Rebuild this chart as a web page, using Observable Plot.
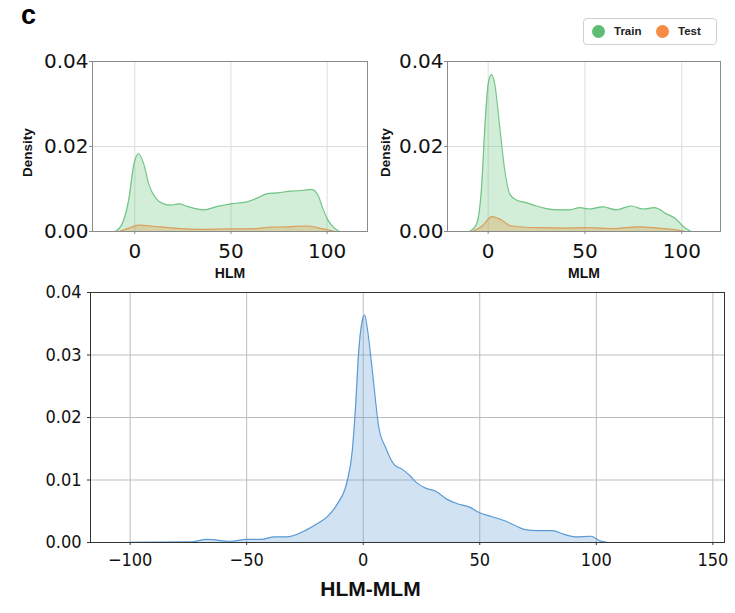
<!DOCTYPE html>
<html>
<head>
<meta charset="utf-8">
<script src="https://cdn.jsdelivr.net/npm/d3@7"></script>
<script src="https://cdn.jsdelivr.net/npm/@observablehq/plot@0.6"></script>
<style>
  body { margin: 0; background: white; }
  #fig { position: relative; width: 735px; height: 613px; overflow: hidden; }
  #fig > div { position: absolute; }
  .lab { font-family: "Liberation Sans", Arial, sans-serif; font-weight: bold; }
  #legend {
    left: 583px; top: 18px; width: 132px; height: 25px;
    border: 1px solid #d0d0d0; border-radius: 4px;
    font-size: 11.5px; color: #222;
  }
  #legend span { position: absolute; top: 6px; }
  #legend i { position: absolute; top: 6px; width: 13px; height: 13px; border-radius: 50%; }
</style>
</head>
<body>
<div id="fig">
  <div class="lab" style="left:21px; top:2px; font-size:27px; line-height:27px;">c</div>
  <div id="tl" style="left:0px; top:40px;"></div>
  <div id="tr" style="left:370px; top:40px;"></div>
  <div id="bot" style="left:0px; top:280px;"></div>
  <div id="legend" class="lab">
    <i style="left:8px; background:#5dbd72;"></i><span style="left:30px;">Train</span>
    <i style="left:72px; background:#f58b45;"></i><span style="left:94px;">Test</span>
  </div>
</div>
<script>
// HLM density
const hlmTrainX = [-10, -6, -3, -0.5, 2, 4.7, 7.3, 10.8, 15, 18.6, 23, 27.3, 36, 43, 50, 57.7, 63.8, 69, 74.3, 81.2, 88.2, 91.7, 95.1, 97.7, 100.3, 103.8, 106.4]
const hlmTrainY = [0, 0.0024, 0.0079, 0.0158, 0.0183, 0.0158, 0.0111, 0.0079, 0.0065, 0.0062, 0.0065, 0.0059, 0.0051, 0.0059, 0.0065, 0.0069, 0.0079, 0.0089, 0.0091, 0.0095, 0.0097, 0.0099, 0.0087, 0.0055, 0.0028, 0.0008, 0]
const hlmTestX = [-8, -3, 2, 8, 20, 35, 50, 60, 70, 80, 90, 98, 104]
const hlmTestY = [0, 0.0008, 0.0015, 0.0013, 0.0008, 0.0005, 0.0006, 0.0006, 0.0010, 0.0011, 0.0013, 0.0006, 0]

// MLM density
const mlmTrainX = [-9.5, -6, -3.4, -1.7, 0, 1.7, 3.4, 6, 8.6, 11.2, 14.6, 19.8, 24.9, 30, 37, 42, 47.3, 52.4, 59.3, 66.2, 73.9, 79.9, 85.9, 91.9, 97.1, 100.5, 104.8]
const mlmTrainY = [0, 0.0017, 0.0104, 0.0245, 0.0347, 0.0369, 0.0347, 0.0245, 0.0143, 0.0088, 0.0074, 0.0068, 0.0060, 0.0054, 0.0051, 0.0051, 0.0056, 0.0053, 0.0058, 0.0051, 0.0060, 0.0053, 0.0056, 0.0042, 0.0029, 0.0013, 0]
const mlmTestX = [-8, -3, 2, 6, 12, 25, 40, 50, 65, 78, 85, 95, 102]
const mlmTestY = [0, 0.0013, 0.0035, 0.0029, 0.0013, 0.0009, 0.0008, 0.0009, 0.0007, 0.0011, 0.0009, 0.0005, 0]

// HLM-MLM density
const diffX = [-100, -74, -67, -57, -50, -44, -38, -33, -25.5, -19.8, -15.5, -11.2, -6.9, -4.7, -3.3, -1.9, -0.4, 0.6, 1.7, 3.9, 6.7, 9.6, 13.2, 16.8, 20.3, 22.5, 26.8, 31.1, 36, 40.4, 45.4, 49.7, 54.7, 61.2, 64.7, 69, 74.8, 81.2, 86.2, 91.2, 97.7, 101.3, 105]
const diffY = [0.00003, 0.0001, 0.0005, 0.0002, 0.0005, 0.0005, 0.0009, 0.0009, 0.0018, 0.0030, 0.0041, 0.0061, 0.0098, 0.0146, 0.0216, 0.0307, 0.0355, 0.0364, 0.0344, 0.0275, 0.0184, 0.0152, 0.0125, 0.0117, 0.0106, 0.0097, 0.0087, 0.0082, 0.0069, 0.0062, 0.0057, 0.0048, 0.0042, 0.0034, 0.0028, 0.0021, 0.0019, 0.0019, 0.0013, 0.0009, 0.0010, 0.0003, 0]

const topTicksX = [0, 50, 100]
const topTicksY = [0, 0.02, 0.04]
const botTicksX = [-100, -50, 0, 50, 100, 150]
const botTicksY = [0, 0.01, 0.02, 0.03, 0.04]

const green = '#5dbd72'
const orange = '#f58b45'
const blue = '#5b9bd5'

const pts = (xs, ys) => xs.map((x, i) => ({x: x, y: ys[i]}))

function kde(data, color, lineOpacity) {
  return [
    Plot.areaY(data, {x: 'x', y: 'y', fill: color, fillOpacity: 0.28, curve: 'monotone-x'}),
    Plot.lineY(data, {x: 'x', y: 'y', stroke: color, strokeWidth: 1.2, strokeOpacity: lineOpacity, curve: 'monotone-x'})
  ]
}

function topPanel(train, test, name, xdom, ml, mr, densDx) {
  return Plot.plot({
    width: ml + mr + 273 + (ml == 92 ? 2 : 0),
    height: 240,
    marginLeft: ml,
    marginRight: mr,
    marginTop: 21,
    marginBottom: 49,
    x: {domain: xdom},
    y: {domain: [0, 0.04]},
    style: {fontFamily: 'DejaVu Sans', fontSize: '20px', color: '#111', overflow: 'visible'},
    marks: [
      Plot.gridX(topTicksX, {stroke: '#dddddd', strokeOpacity: 1}),
      Plot.gridY(topTicksY, {stroke: '#dddddd', strokeOpacity: 1}),
      ...kde(train, green, 0.85),
      Plot.areaY(test, {x: 'x', y: 'y', fill: '#e0a050', fillOpacity: 0.35, curve: 'monotone-x'}),
      Plot.lineY(test, {x: 'x', y: 'y', stroke: '#d9a060', strokeWidth: 1.2, curve: 'monotone-x'}),
      Plot.frame({stroke: '#8a8a8a'}),
      Plot.axisX(topTicksX, {tickSize: 3, tickPadding: 9, label: null, stroke: '#8a8a8a'}),
      Plot.axisY(topTicksY, {tickSize: 3, tickPadding: 1, label: null, tickFormat: '.2f', stroke: '#8a8a8a'}),
      Plot.text([name], {frameAnchor: 'bottom', lineAnchor: 'middle', dy: 42, fontSize: 14, fontWeight: 'bold', fontFamily: 'Liberation Sans, Arial'}),
      Plot.text(['Density'], {frameAnchor: 'left', textAnchor: 'middle', lineAnchor: 'middle', dx: densDx, dy: 6, rotate: -90, fontSize: 13.5, fontWeight: 'bold', fontFamily: 'Liberation Sans, Arial'})
    ]
  })
}

d3.select('#tl').append(() => topPanel(pts(hlmTrainX, hlmTrainY), pts(hlmTestX, hlmTestY), 'HLM', [-22, 121], 92, 13, -65))
d3.select('#tr').append(() => topPanel(pts(mlmTrainX, mlmTrainY), pts(mlmTestX, mlmTestY), 'MLM', [-21, 120], 77, 15, -62))

let bottom = Plot.plot({
  width: 735,
  height: 333,
  marginLeft: 90,
  marginRight: 11,
  marginTop: 12,
  marginBottom: 71,
  x: {domain: [-117, 155]},
  y: {domain: [0, 0.04]},
  style: {fontFamily: '"DejaVu Sans Condensed", "DejaVu Sans"', fontStretch: 'semi-condensed', fontSize: '18px', color: '#111'},
  marks: [
    Plot.gridX(botTicksX, {stroke: '#bdbdbd', strokeOpacity: 1}),
    Plot.gridY(botTicksY, {stroke: '#bdbdbd', strokeOpacity: 1}),
    ...kde(pts(diffX, diffY), blue, 1),
    Plot.frame({stroke: '#333'}),
    Plot.axisX(botTicksX, {tickSize: 3, tickPadding: 8, label: null, tickFormat: d3.format('d'), stroke: '#333'}),
    Plot.axisY(botTicksY, {tickSize: 3, tickPadding: 6, label: null, tickFormat: '.2f', stroke: '#333'}),
    Plot.text(['HLM-MLM'], {frameAnchor: 'bottom', lineAnchor: 'middle', dx: -37, dy: 47, fontSize: 21, fontWeight: 'bold', fontFamily: 'Liberation Sans, Arial'})
  ]
})
d3.select('#bot').append(() => bottom)
</script>
</body>
</html>
